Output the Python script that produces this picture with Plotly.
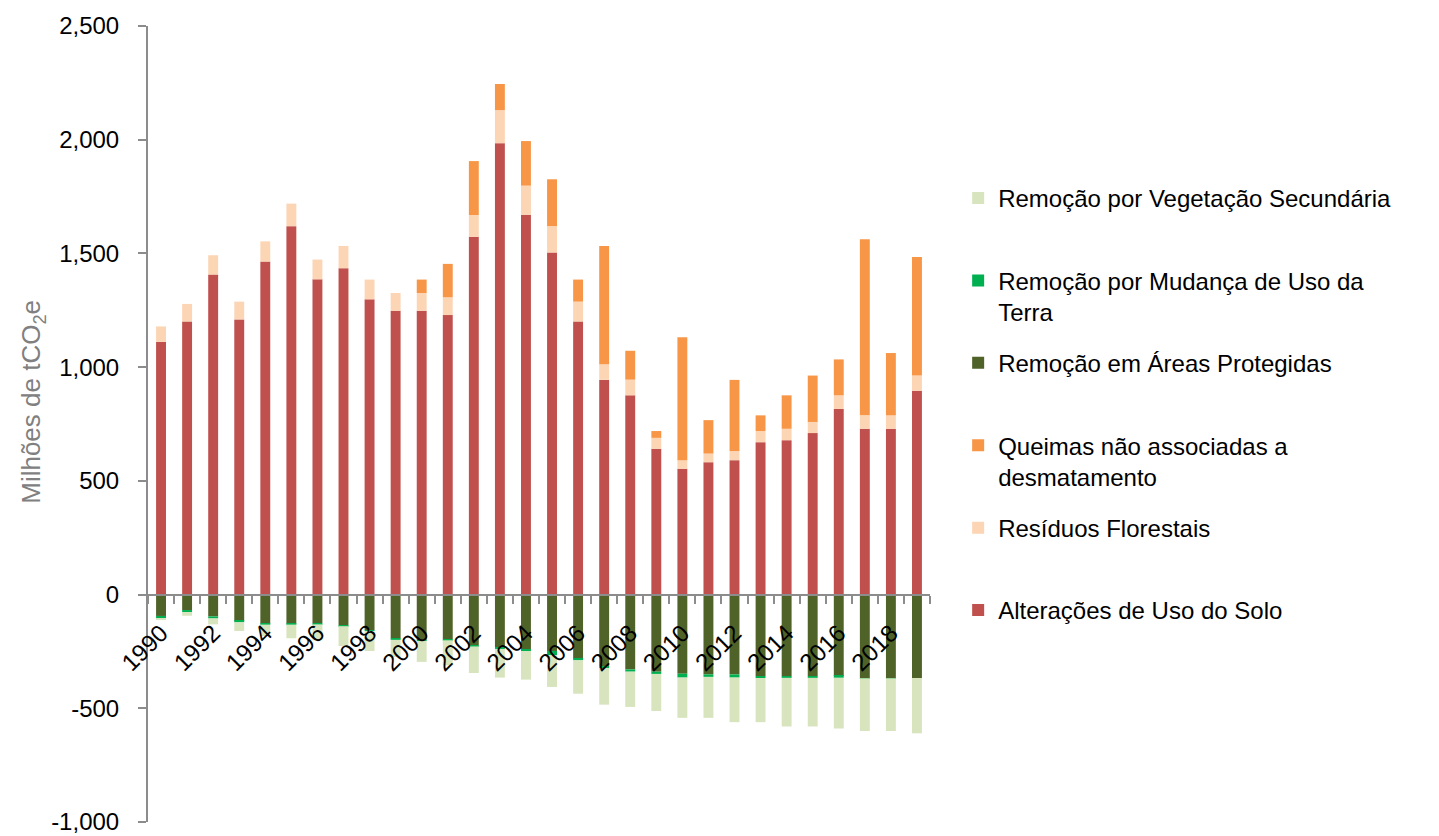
import plotly.graph_objects as go

# Anos da série
anos = [str(a) for a in range(1990, 2020)]

# Emissões brutas (milhões de tCO2e)
alteracoes_uso_solo = [1111, 1201, 1407, 1210, 1464, 1620, 1386, 1435, 1298, 1248,
                       1248, 1229, 1573, 1985, 1670, 1504, 1201, 944, 876, 641,
                       553, 582, 591, 670, 679, 710, 816, 729, 729, 896]
residuos_florestais = [68, 77, 85, 78, 89, 99, 87, 98, 87, 78,
                       78, 78, 96, 145, 128, 116, 87, 69, 69, 48,
                       38, 38, 40, 49, 50, 49, 60, 59, 59, 67]
queimas = [0, 0, 0, 0, 0, 0, 0, 0, 0, 0,
           59, 147, 237, 115, 196, 206, 97, 520, 127, 30,
           540, 147, 313, 69, 147, 204, 158, 774, 274, 521]

# Remoções (milhões de tCO2e)
remocao_areas_protegidas = [-94, -68, -96, -116, -128, -128, -126, -135, -156, -193,
                            -200, -197, -223, -233, -242, -248, -282, -314, -329, -339,
                            -348, -351, -351, -358, -359, -359, -358, -367, -367, -367]
remocao_mudanca_uso = [-11, -9, -9, -6, -4, -4, -5, -4, -4, -6,
                       -4, -4, -5, -6, -6, -18, -7, -10, -10, -10,
                       -17, -11, -14, -9, -7, -7, -8, -1, -1, 0]
remocao_veg_secundaria = [-5, -16, -26, -38, -50, -60, -70, -87, -88, -75,
                          -92, -110, -117, -126, -126, -140, -147, -160, -155, -163,
                          -177, -180, -196, -194, -214, -214, -223, -232, -232, -243]

# Rótulos dos eixos
rotulos_x = [a if int(a) % 2 == 0 else "" for a in anos]
valores_y = [-1000, -500, 0, 500, 1000, 1500, 2000, 2500]
rotulos_y = ["-1,000", "-500", "0", "500", "1,000", "1,500", "2,000", "2,500"]
titulo_y = "Milhões de tCO<sub>2</sub>e"

# (nome na legenda, valores, cor, posição na legenda)
series = [
    ("Alterações de Uso do Solo<br> ", alteracoes_uso_solo, "#C0504D", 6),
    ("Resíduos Florestais<br> ", residuos_florestais, "#FCD5B5", 5),
    ("Queimas não associadas a<br>desmatamento", queimas, "#F79646", 4),
    ("Remoção em Áreas Protegidas<br> ", remocao_areas_protegidas, "#4F6228", 3),
    ("Remoção por Mudança de Uso da<br>Terra", remocao_mudanca_uso, "#00B050", 2),
    ("Remoção por Vegetação Secundária<br> ", remocao_veg_secundaria, "#D7E4BD", 1),
]

fig = go.Figure()
for i, (nome, valores, cor, ordem) in enumerate(series):
    fig.add_trace(go.Bar(
        x=anos, y=valores, name=nome, legendgroup=f"g{i}", legendrank=ordem,
        marker=dict(color=cor, line=dict(width=0)),
    ))

fonte = "Liberation Sans, Arial, sans-serif"

fig.update_layout(
    width=1439, height=836,
    margin=dict(l=148, r=509, t=26, b=14),
    paper_bgcolor="white", plot_bgcolor="white",
    barmode="relative", bargap=0.62,
    font=dict(family=fonte, color="black"),
    showlegend=True,
    legend=dict(
        x=1.036, xanchor="left", y=0.8116, yanchor="top",
        traceorder="grouped", tracegroupgap=17,
        valign="top", font=dict(size=24, color="black", family=fonte),
        bgcolor="rgba(0,0,0,0)",
    ),
    xaxis=dict(
        type="category", anchor="free", position=1000 / 3500,
        showline=True, linecolor="#8C8C8C", linewidth=2,
        ticks="outside", ticklen=8, tickwidth=2, tickcolor="#8C8C8C",
        tickson="boundaries", tickangle=-45, ticklabelstandoff=14,
        tickvals=anos, ticktext=rotulos_x,
        tickfont=dict(size=24, color="black"),
        showgrid=False, zeroline=False, automargin=False,
    ),
    yaxis=dict(
        range=[-1000, 2500], tickvals=valores_y, ticktext=rotulos_y,
        showline=True, linecolor="#8C8C8C", linewidth=2,
        ticks="outside", ticklen=8, tickwidth=2, tickcolor="#8C8C8C",
        ticklabelstandoff=14,
        tickfont=dict(size=24, color="black"),
        showgrid=False, zeroline=False, automargin=False,
    ),
    annotations=[dict(
        text=titulo_y, textangle=-90, showarrow=False,
        xref="paper", yref="paper", x=-0.147, y=0.528,
        xanchor="center", yanchor="middle",
        font=dict(size=26, color="#808080", family=fonte),
    )],
)

fig.write_html("out.html")
